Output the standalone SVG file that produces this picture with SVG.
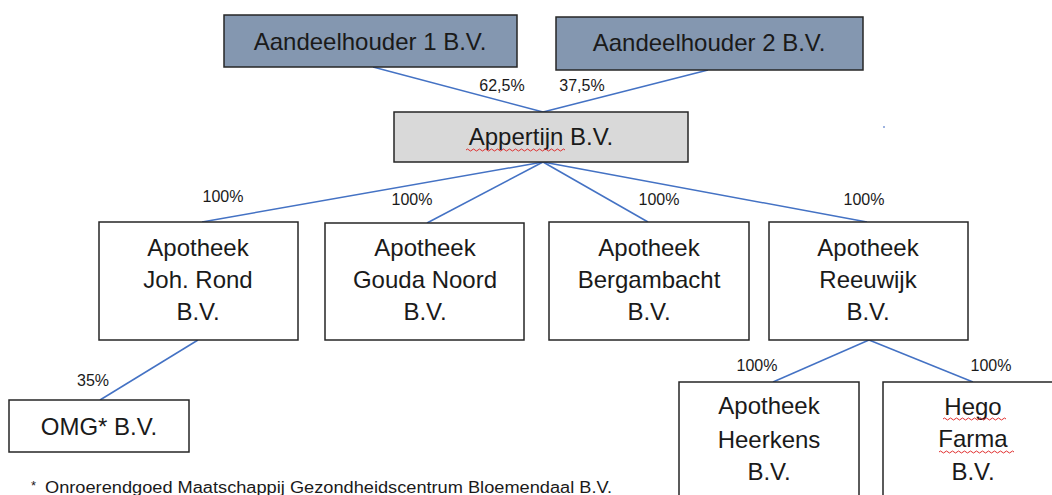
<svg xmlns="http://www.w3.org/2000/svg" width="1052" height="495" viewBox="0 0 1052 495">
<style>
.box{fill:#ffffff;stroke:#262626;stroke-width:1.5}
.sh{fill:#8497B0;stroke:#262626;stroke-width:1.5}
.gr{fill:#D9D9D9;stroke:#262626;stroke-width:1.5}
.t{font-family:"Liberation Sans",Arial,sans-serif;font-size:24px;fill:#1a1a1a;text-anchor:middle}
.p{font-family:"Liberation Sans",Arial,sans-serif;font-size:16px;fill:#1a1a1a;text-anchor:middle}
.c line{stroke:#4472C4;stroke-width:1.5}
.sq{fill:none;stroke:#E03030;stroke-width:1}
</style>
<rect width="1052" height="495" fill="#ffffff"/>
<g class="c" id="connectors">
<line x1="373" y1="67" x2="543" y2="112"/>
<line x1="708" y1="70" x2="543" y2="112"/>
<line x1="543" y1="162" x2="202" y2="222"/>
<line x1="543" y1="162" x2="427" y2="223"/>
<line x1="543" y1="162" x2="648" y2="222"/>
<line x1="543" y1="162" x2="867" y2="222"/>
<line x1="198" y1="340" x2="100" y2="400"/>
<line x1="869" y1="340" x2="773" y2="382"/>
<line x1="869" y1="340" x2="973" y2="382"/>
</g>
<g id="labels">
<text class="p" x="502" y="91">62,5%</text>
<text class="p" x="582" y="91">37,5%</text>
<text class="p" x="223" y="202">100%</text>
<text class="p" x="412" y="205">100%</text>
<text class="p" x="659" y="205">100%</text>
<text class="p" x="864" y="205">100%</text>
<text class="p" x="93" y="386">35%</text>
<text class="p" x="757" y="371">100%</text>
<text class="p" x="991" y="371">100%</text>
</g>
<g id="aandeelhouder1">
<rect class="sh" x="224" y="15" width="293" height="52"/>
<text class="t" x="370" y="50">Aandeelhouder 1 B.V.</text>
</g>
<g id="aandeelhouder2">
<rect class="sh" x="556" y="17" width="307" height="53"/>
<text class="t" x="709" y="51">Aandeelhouder 2 B.V.</text>
</g>
<g id="appertijn">
<rect class="gr" x="394" y="112" width="294" height="50"/>
<text class="t" x="541" y="145">Appertijn B.V.</text>
<path class="sq" d="M466 150 q1.5 -2 3 0 t3 0 t3 0 t3 0 t3 0 t3 0 t3 0 t3 0 t3 0 t3 0 t3 0 t3 0 t3 0 t3 0 t3 0 t3 0 t3 0 t3 0 t3 0 t3 0 t3 0 t3 0 t3 0 t3 0 t3 0 t3 0 t3 0 t3 0 t3 0 t3 0 t3 0 t3 0 t3 0"/>
</g>
<g id="johrond">
<rect class="box" x="99" y="222" width="199" height="118"/>
<text class="t" x="198" y="256">Apotheek</text>
<text class="t" x="198" y="288">Joh. Rond</text>
<text class="t" x="198" y="320">B.V.</text>
</g>
<g id="goudanoord">
<rect class="box" x="325" y="223" width="199" height="117"/>
<text class="t" x="425" y="256">Apotheek</text>
<text class="t" x="425" y="288">Gouda Noord</text>
<text class="t" x="425" y="320">B.V.</text>
</g>
<g id="bergambacht">
<rect class="box" x="549" y="222" width="200" height="118"/>
<text class="t" x="649" y="256">Apotheek</text>
<text class="t" x="649" y="288">Bergambacht</text>
<text class="t" x="649" y="320">B.V.</text>
</g>
<g id="reeuwijk">
<rect class="box" x="769" y="222" width="199" height="118"/>
<text class="t" x="868" y="256">Apotheek</text>
<text class="t" x="868" y="288">Reeuwijk</text>
<text class="t" x="868" y="320">B.V.</text>
</g>
<g id="omg">
<rect class="box" x="9" y="400" width="180" height="52"/>
<text class="t" x="99" y="435">OMG* B.V.</text>
</g>
<g id="heerkens">
<rect class="box" x="679" y="382" width="180" height="130"/>
<text class="t" x="769" y="414">Apotheek</text>
<text class="t" x="769" y="448">Heerkens</text>
<text class="t" x="769" y="480">B.V.</text>
</g>
<g id="hegofarma">
<rect class="box" x="883" y="382" width="180" height="130"/>
<text class="t" x="973" y="415">Hego</text>
<text class="t" x="973" y="447">Farma</text>
<text class="t" x="973" y="480">B.V.</text>
<path class="sq" d="M943 419 q1.5 -2 3 0 t3 0 t3 0 t3 0 t3 0 t3 0 t3 0 t3 0 t3 0 t3 0 t3 0 t3 0 t3 0 t3 0 t3 0 t3 0 t3 0 t3 0 t3 0 t3 0 t3 0"/>
<path class="sq" d="M939 452 q1.5 -2 3 0 t3 0 t3 0 t3 0 t3 0 t3 0 t3 0 t3 0 t3 0 t3 0 t3 0 t3 0 t3 0 t3 0 t3 0 t3 0 t3 0 t3 0 t3 0 t3 0 t3 0 t3 0 t3 0 t3 0 t3 0"/>
</g>
<g id="footnote">
<text x="31" y="490" font-family="Liberation Sans, Arial, sans-serif" font-size="13" fill="#1a1a1a">*</text>
<text x="45" y="493" font-family="Liberation Sans, Arial, sans-serif" font-size="16" fill="#1a1a1a" textLength="567" lengthAdjust="spacingAndGlyphs">Onroerendgoed Maatschappij Gezondheidscentrum Bloemendaal B.V.</text>
</g>
<rect x="883" y="126" width="2" height="2" fill="#9DB3E0"/>
</svg>
